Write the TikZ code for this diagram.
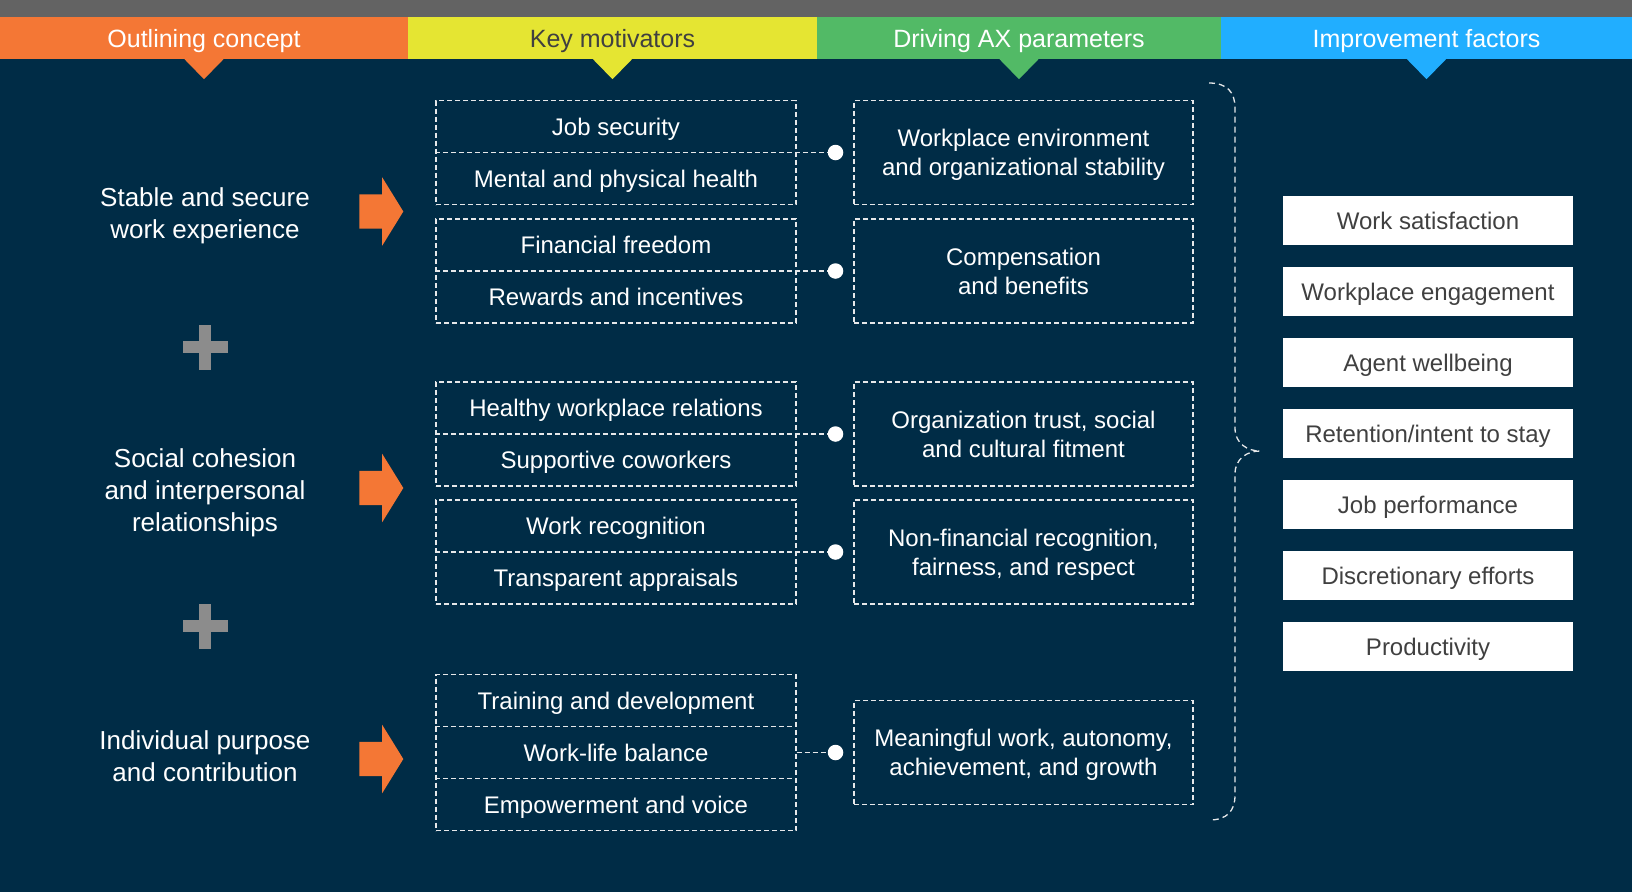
\documentclass[tikz,border=0pt]{standalone}
\usepackage{fontspec}
\setmainfont{Liberation Sans}
\usepackage{tikz}
\usetikzlibrary{shapes.arrows, positioning}

\definecolor{navy}{HTML}{002C46}
\definecolor{barorange}{HTML}{F47735}
\definecolor{baryellow}{HTML}{E5E532}
\definecolor{bargreen}{HTML}{52BA66}
\definecolor{barblue}{HTML}{21AEFF}
\definecolor{topgray}{HTML}{636363}
\definecolor{plusgray}{HTML}{8C8C8C}
\definecolor{txtgray}{HTML}{404040}
\definecolor{dashwhite}{HTML}{E6E8EA}

\begin{document}
\begin{tikzpicture}[x=1pt, y=-1pt,
    hdr/.style={minimum width=#1, minimum height=42pt, inner sep=0pt, text depth=0pt, font=\fontsize{25}{30}\selectfont},
    concept/.style={text=white, align=center, text depth=0pt, font=\fontsize{26}{32}\selectfont},
    grp/.style={draw=dashwhite, dash pattern=on 5pt off 3pt, line width=1.4pt, minimum width=360pt, minimum height=#1, inner sep=0pt},
    item/.style={text=white, text depth=0pt, font=\fontsize{24}{29}\selectfont},
    param/.style={draw=dashwhite, dash pattern=on 5pt off 3pt, line width=1.4pt, minimum width=339pt, minimum height=104pt, text=white, align=center, text depth=0pt, font=\fontsize{24}{29}\selectfont},
    factor/.style={fill=white, minimum width=290pt, minimum height=49.5pt, inner sep=0pt, text=txtgray, text depth=0pt, font=\fontsize{24}{29}\selectfont},
    dot/.style={circle, fill=white, minimum size=15.5pt, inner sep=0pt},
    link/.style={dashwhite, dash pattern=on 5pt off 3pt, line width=1.4pt},
    mover/.style={single arrow, fill=barorange, inner sep=0pt, text height=17pt, text depth=17pt, minimum height=44pt, single arrow head extend=17pt, single arrow tip angle=116.6},
    brace/.style={dashwhite, dash pattern=on 6pt off 4pt, line width=1.3pt}
]
    \useasboundingbox (0,0) rectangle (1632,892);
    \fill[navy] (0,0) rectangle (1632,892);
    \fill[topgray] (0,0) rectangle (1632,17);

    % column headers
    \node[hdr=408pt, fill=barorange, text=white] (hA) at (204,38) {Outlining concept};
    \node[hdr=409pt, fill=baryellow, text=txtgray] (hB) at (612.5,38) {Key motivators};
    \node[hdr=404pt, fill=bargreen, text=white] (hC) at (1019,38) {Driving AX parameters};
    \node[hdr=411pt, fill=barblue, text=white] (hD) at (1426.5,38) {Improvement factors};
    \foreach \h/\c in {hA/barorange, hB/baryellow, hC/bargreen, hD/barblue}
        \fill[\c] ([xshift=-20pt, yshift=0.5pt]\h.south) -- ([xshift=20pt, yshift=0.5pt]\h.south) -- ([yshift=-20pt]\h.south) -- cycle;

    % outlining concepts
    \node[concept] (cA) at (205,213) {Stable and secure\\work experience};
    \node[concept] (cB) at (205,490) {Social cohesion\\and interpersonal\\relationships};
    \node[concept] (cC) at (205,756) {Individual purpose\\and contribution};
    \node[mover] (aA) at (376,211.5) {};
    \node[mover] (aB) at (376,488) {};
    \node[mover] (aC) at (376,759) {};
    \foreach \y in {347,626} {
        \fill[plusgray] (182.5,\y-6) rectangle (227.5,\y+6);
        \fill[plusgray] (199,\y-22.5) rectangle (211,\y+22.5);
    }

    % key motivators
    \node[grp=104pt] (kA) at (616,152.5) {};
    \node[item] (kA1) at (616,126.5) {Job security};
    \node[item] (kA2) at (616,178.5) {Mental and physical health};
    \node[grp=104pt] (kB) at (616,271) {};
    \node[item] (kB1) at (616,245) {Financial freedom};
    \node[item] (kB2) at (616,297) {Rewards and incentives};
    \node[grp=104pt] (kC) at (616,434) {};
    \node[item] (kC1) at (616,408) {Healthy workplace relations};
    \node[item] (kC2) at (616,460) {Supportive coworkers};
    \node[grp=104pt] (kD) at (616,552) {};
    \node[item] (kD1) at (616,526) {Work recognition};
    \node[item] (kD2) at (616,578) {Transparent appraisals};
    \node[grp=156pt] (kE) at (616,752.5) {};
    \node[item] (kE1) at (616,700.5) {Training and development};
    \node[item] (kE2) at (616,752.5) {Work-life balance};
    \node[item] (kE3) at (616,804.5) {Empowerment and voice};
    \draw[link] (kE.west |- 0,726.5) -- (kE.east |- 0,726.5);
    \draw[link] (kE.west |- 0,778.5) -- (kE.east |- 0,778.5);

    % driving parameters
    \node[param] (dA) at (1023.5,152.5) {Workplace environment\\and organizational stability};
    \node[param] (dB) at (1023.5,271) {Compensation\\and benefits};
    \node[param] (dC) at (1023.5,434) {Organization trust, social\\and cultural fitment};
    \node[param] (dD) at (1023.5,552) {Non-financial recognition,\\fairness, and respect};
    \node[param] (dE) at (1023.5,752.5) {Meaningful work, autonomy,\\achievement, and growth};

    \node[dot] (pA) at (835.5,152.5) {};
    \node[dot] (pB) at (835.5,271) {};
    \node[dot] (pC) at (835.5,434) {};
    \node[dot] (pD) at (835.5,552) {};
    \node[dot] (pE) at (835.5,752.5) {};
    \draw[link] (kA.west) -- (pA);
    \draw[link] (kB.west) -- (pB);
    \draw[link] (kC.west) -- (pC);
    \draw[link] (kD.west) -- (pD);
    \draw[link] (kE.east) -- (pE);

    % brace
    \draw[brace] (1209,83) .. controls (1227,83) and (1235,92) .. (1235,108) -- (1235,428)
        .. controls (1235,444) and (1248,451) .. (1260,451)
        .. controls (1248,451) and (1235,458) .. (1235,474) -- (1235,795)
        .. controls (1235,811) and (1227,820) .. (1209,820);

    % improvement factors
    \node[factor] (fA) at (1428,220.7) {Work satisfaction};
    \node[factor] (fB) at (1428,291.7) {Workplace engagement};
    \node[factor] (fC) at (1428,362.7) {Agent wellbeing};
    \node[factor] (fD) at (1428,433.7) {Retention/intent to stay};
    \node[factor] (fE) at (1428,504.7) {Job performance};
    \node[factor] (fF) at (1428,575.7) {Discretionary efforts};
    \node[factor] (fG) at (1428,646.7) {Productivity};
\end{tikzpicture}
\end{document}
